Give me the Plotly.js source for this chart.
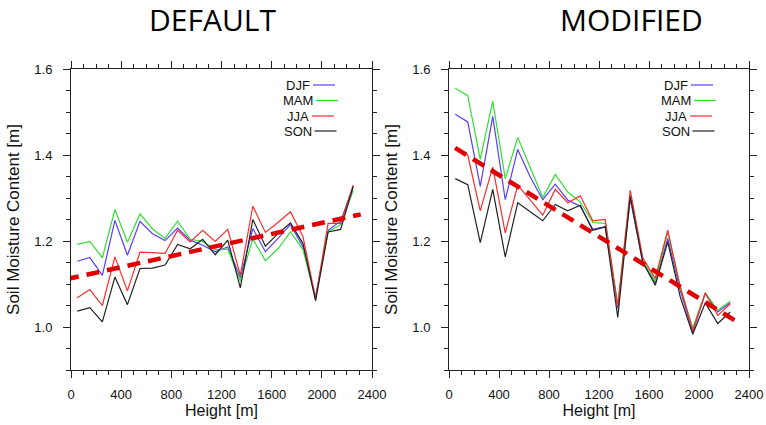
<!DOCTYPE html>
<html>
<head>
<meta charset="utf-8">
<script src="https://cdn.plot.ly/plotly-3.0.1.min.js"></script>
<style>html,body{margin:0;padding:0;background:#fff;}#chart{width:766px;height:425px;}</style>
</head>
<body>
<div id="chart"></div>
<script>
// Heights (m)
var heights = [50,150,250,350,450,550,650,750,850,950,1050,1150,1250,1350,1450,1550,1650,1750,1850,1950,2050,2150,2250];
var seasons = ["DJF","MAM","JJA","SON"];

// DEFAULT panel
var defDJF = [1.153,1.162,1.120,1.248,1.167,1.246,1.217,1.201,1.230,1.202,1.190,1.175,1.186,1.115,1.229,1.175,1.206,1.238,1.186,1.070,1.225,1.246,1.326];
var defMAM = [1.192,1.199,1.161,1.273,1.197,1.263,1.228,1.206,1.246,1.204,1.199,1.180,1.181,1.107,1.205,1.154,1.182,1.221,1.180,1.067,1.222,1.238,1.318];
var defJJA = [1.068,1.087,1.050,1.163,1.084,1.174,1.173,1.171,1.225,1.198,1.225,1.199,1.227,1.120,1.281,1.220,1.243,1.268,1.210,1.066,1.241,1.241,1.330];
var defSON = [1.037,1.045,1.012,1.116,1.052,1.136,1.137,1.144,1.192,1.182,1.204,1.168,1.202,1.091,1.250,1.188,1.217,1.242,1.194,1.061,1.221,1.227,1.327];
var defTrendX = [-40, 2310];
var defTrendY = [1.111, 1.262];

// MODIFIED panel
var modDJF = [1.495,1.477,1.327,1.490,1.296,1.413,1.349,1.296,1.332,1.295,1.281,1.227,1.233,1.043,1.299,1.150,1.102,1.206,1.085,0.988,1.078,1.035,1.057];
var modMAM = [1.555,1.538,1.390,1.525,1.345,1.441,1.371,1.301,1.355,1.314,1.291,1.243,1.241,1.050,1.307,1.155,1.106,1.221,1.093,0.998,1.080,1.039,1.060];
var modJJA = [1.415,1.400,1.270,1.372,1.219,1.330,1.295,1.260,1.320,1.289,1.305,1.247,1.250,1.049,1.318,1.161,1.113,1.225,1.093,0.992,1.079,1.027,1.054];
var modSON = [1.345,1.331,1.196,1.320,1.163,1.289,1.268,1.247,1.285,1.270,1.283,1.225,1.233,1.022,1.303,1.151,1.097,1.198,1.070,0.983,1.056,1.008,1.035];
var modTrendX = [-94, 2328];
var modTrendY = [1.442, 1.008];

var panelTitles = ["DEFAULT","MODIFIED"];
var xTitle = "Height [m]";
var yTitle = "Soil Moisture Content [m]";

var colors = {DJF:"#5b3cff", MAM:"#2ee02e", JJA:"#ff2b2b", SON:"#222222"};
var trendColor = "#e00000";

var defSeries = {DJF:defDJF, MAM:defMAM, JJA:defJJA, SON:defSON};
var modSeries = {DJF:modDJF, MAM:modMAM, JJA:modJJA, SON:modSON};

var traces = [];
function addPanel(series, tx, ty, xa, ya){
  seasons.forEach(function(s){
    traces.push({x:heights, y:series[s], xaxis:xa, yaxis:ya, type:"scatter", mode:"lines",
      name:s, line:{color:colors[s], width:1.2}, showlegend:false, hoverinfo:"skip"});
  });
  traces.push({x:tx, y:ty, xaxis:xa, yaxis:ya, type:"scatter", mode:"lines",
    line:{color:trendColor, width:4.5, dash:"13px,8px"}, showlegend:false, hoverinfo:"skip"});
}
addPanel(defSeries, defTrendX, defTrendY, "x", "y");
addPanel(modSeries, modTrendX, modTrendY, "x2", "y2");

var W = 766, H = 425;
var axColor = "#222";
var tickFont = {family:"Liberation Sans, Arial, sans-serif", size:13, color:"#111"};
var titleFont = {family:"Liberation Sans, Arial, sans-serif", size:16, color:"#111"};

function xaxisDef(domain, anchor){
  return {domain:domain, anchor:anchor, range:[0,2400], tick0:0, dtick:400,
    ticks:"outside", ticklen:7, tickwidth:1, tickcolor:axColor,
    showline:true, linecolor:axColor, linewidth:1, mirror:"ticks",
    showgrid:false, zeroline:false, automargin:false,
    minor:{dtick:100, ticklen:4, tickwidth:1, tickcolor:axColor, ticks:"outside", showgrid:false},
    tickfont:tickFont, ticklabelstandoff:5,
    title:{text:xTitle, font:titleFont, standoff:4}};
}
function yaxisDef(anchor){
  return {domain:[0,1], anchor:anchor, range:[0.9,1.6], tick0:0, dtick:0.2, tickformat:".1f",
    ticks:"outside", ticklen:7, tickwidth:1, tickcolor:axColor,
    showline:true, linecolor:axColor, linewidth:1, mirror:"ticks",
    showgrid:false, zeroline:false, automargin:false,
    minor:{dtick:0.05, ticklen:4, tickwidth:1, tickcolor:axColor, ticks:"outside", showgrid:false},
    tickfont:tickFont, ticklabelstandoff:8,
    title:{text:yTitle, font:{family:titleFont.family, size:17, color:"#111"}, standoff:10}};
}

var ml = 71, mr = 17, mt = 69, mb = 55;
var pw = W - ml - mr;
var annotations = [];
var shapes = [];

// panel titles
var titleCx = [212, 631];
panelTitles.forEach(function(t, i){
  annotations.push({text:t, xref:"paper", yref:"paper",
    x:(titleCx[i]-ml)/pw, y:1 + (mt-20)/(H-mt-mb), xanchor:"center", yanchor:"middle",
    showarrow:false, font:{family:"Open Sans, Noto Sans, sans-serif", size:30, color:"#000"}});
});

// custom legends (text then line, like the original)
var legRowsY = [85, 100.5, 116, 131];
var legTextEnd = [312, 315, 311, 313.5];
var panelShift = [0, 378];
panelShift.forEach(function(shift){
  seasons.forEach(function(s, i){
    var yp = 1 - (legRowsY[i]-mt)/(H-mt-mb);
    var xe = legTextEnd[i] + shift;
    annotations.push({text:s, xref:"paper", yref:"paper", x:(xe-ml)/pw, y:yp,
      xanchor:"right", yanchor:"middle", showarrow:false, xshift:0,
      font:{family:"Liberation Sans, Arial, sans-serif", size:13, color:"#111"}});
    shapes.push({type:"line", xref:"paper", yref:"paper",
      x0:(xe+1-ml)/pw, x1:(xe+23-ml)/pw, y0:yp, y1:yp,
      line:{color:colors[s], width:1.2}});
  });
});

var layout = {
  width:W, height:H, margin:{l:ml, r:mr, t:mt, b:mb},
  paper_bgcolor:"#fff", plot_bgcolor:"#fff", showlegend:false,
  xaxis:xaxisDef([0, 301/pw], "y"),
  yaxis:yaxisDef("x"),
  xaxis2:xaxisDef([(449-ml)/pw, 1], "y2"),
  yaxis2:yaxisDef("x2"),
  annotations:annotations, shapes:shapes
};

Plotly.newPlot("chart", traces, layout, {displayModeBar:false, staticPlot:true});
</script>
</body>
</html>
